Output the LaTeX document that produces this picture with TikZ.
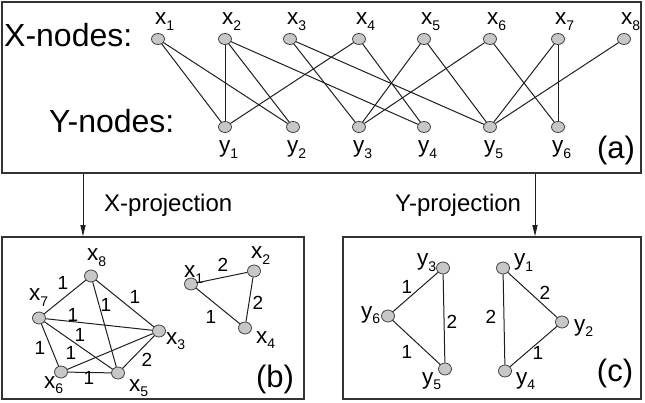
\documentclass[tikz,border=0pt]{standalone}
\usepackage{fontspec}
\setmainfont{Liberation Sans}
\usetikzlibrary{shapes.geometric,arrows.meta}
\newcommand{\sublab}[2]{{\fontsize{22.5}{22.5}\selectfont #1}\raisebox{-5.5pt}{\fontsize{14}{14}\selectfont #2}}
\begin{document}
\begin{tikzpicture}[x=1pt,y=-1pt,
  vtx/.style={ellipse, draw=black!75, fill=black!22, line width=0.8pt, minimum width=13pt, minimum height=11pt, inner sep=0pt},
  edge/.style={draw=black!88, line width=1pt},
  frame/.style={draw=black!80, line width=1.5pt, inner sep=0pt, rectangle},
  lbl/.style={anchor=base west, inner sep=0pt},
  wt/.style={font=\fontsize{19}{19}\selectfont, inner sep=0pt},
  big/.style={anchor=base west, inner sep=0pt, font=\fontsize{32}{32}\selectfont},
  tag/.style={inner sep=0pt, font=\fontsize{31}{31}\selectfont},
  proj/.style={anchor=base west, inner sep=0pt, font=\fontsize{24}{24}\selectfont},
  arr/.style={draw=black!88, line width=1pt, -{Triangle[length=11pt,width=5pt]}}]
\useasboundingbox (0,0) rectangle (645,403);
% frames
\node[frame, minimum width=639pt, minimum height=171pt] (boxa) at (321.5,87.5) {};
\node[frame, minimum width=302pt, minimum height=162pt] (boxb) at (153,318) {};
\node[frame, minimum width=298pt, minimum height=162pt] (boxc) at (492,318) {};
% (a)
\node[big] (xt) at (4,47) {X-nodes:};
\node[big] (yt) at (49,133) {Y-nodes:};
\foreach \i/\x in {1/158,2/225,3/290,4/359,5/424,6/490,7/558,8/624}{
  \node[vtx] (x\i) at (\x,39) {};
  \node[lbl] (xl\i) at (\x-3,25) {\sublab{x}{\i}};
}
\foreach \i/\x in {1/225,2/293,3/359,4/424,5/490,6/558}{
  \node[vtx] (y\i) at (\x,127) {};
  \node[lbl] (yl\i) at (\x-6,153) {\sublab{y}{\i}};
}
\foreach \a/\b in {1/1,1/2,2/1,2/2,2/4,3/3,3/5,4/1,4/4,5/3,5/5,6/3,6/6,7/5,7/6,8/5}{
  \draw[edge] (x\a) -- (y\b);
}
\node[tag] (ta) at (616,150) {(a)};
% arrows
\coordinate (ax) at (83,0);
\coordinate (bx) at (535,0);
\draw[arr] (boxa.south -| ax) -- (boxb.north -| ax);
\draw[arr] (boxa.south -| bx) -- (boxc.north -| bx);
\node[proj] (xp) at (104,212) {X-projection};
\node[proj] (yp) at (395,212) {Y-projection};
% (b)
\node[vtx, minimum height=12pt] (b8) at (91,276) {};
\node[vtx, minimum height=12pt] (b7) at (39,318) {};
\node[vtx, minimum height=12pt] (b3) at (159,331) {};
\node[vtx, minimum height=12pt] (b6) at (61,372) {};
\node[vtx, minimum height=12pt] (b5) at (118,373) {};
\node[vtx, minimum height=12pt] (b1) at (191,284) {};
\node[vtx, minimum height=12pt] (b2) at (254,271) {};
\node[vtx, minimum height=12pt] (b4) at (245,328) {};
\node[lbl] (bl8) at (87,261) {\sublab{x}{8}};
\node[lbl] (bl7) at (29,301) {\sublab{x}{7}};
\node[lbl] (bl3) at (166,344) {\sublab{x}{3}};
\node[lbl] (bl6) at (44,388) {\sublab{x}{6}};
\node[lbl] (bl5) at (129,391) {\sublab{x}{5}};
\node[lbl] (bl1) at (184,278) {\sublab{x}{1}};
\node[lbl] (bl2) at (251,259) {\sublab{x}{2}};
\node[lbl] (bl4) at (256,343) {\sublab{x}{4}};
\draw[edge] (b7) -- (b8);
\draw[edge] (b8) -- (b3);
\draw[edge] (b8) -- (b5);
\draw[edge] (b7) -- (b3);
\draw[edge] (b7) -- (b5);
\draw[edge] (b7) -- (b6);
\draw[edge] (b6) -- (b3);
\draw[edge] (b6) -- (b5);
\draw[edge] (b3) -- (b5);
\draw[edge] (b1) -- (b2);
\draw[edge] (b2) -- (b4);
\draw[edge] (b1) -- (b4);
\node[wt] (w1) at (63,283) {1};
\node[wt] (w2) at (135,297) {1};
\node[wt] (w3) at (73,315) {1};
\node[wt] (w4) at (106,305) {1};
\node[wt] (w5) at (80,335) {1};
\node[wt] (w6) at (71,353) {1};
\node[wt] (w7) at (40,348) {1};
\node[wt] (w8) at (89,378) {1};
\node[wt] (w9) at (147,360) {2};
\node[wt] (w10) at (223,265) {2};
\node[wt] (w11) at (258,303) {2};
\node[wt] (w12) at (211,317) {1};
\node[tag] (tb) at (275,379) {(b)};
% (c)
\node[vtx, minimum height=12pt] (c3) at (443,268) {};
\node[vtx, minimum height=12pt] (c6) at (388,316) {};
\node[vtx, minimum height=12pt] (c5) at (445,369) {};
\node[vtx, minimum height=12pt] (c1) at (503,268) {};
\node[vtx, minimum height=12pt] (c2) at (562,322) {};
\node[vtx, minimum height=12pt] (c4) at (505,371) {};
\node[lbl] (cl3) at (417,266) {\sublab{y}{3}};
\node[lbl] (cl6) at (361,318) {\sublab{y}{6}};
\node[lbl] (cl5) at (422,384) {\sublab{y}{5}};
\node[lbl] (cl1) at (514,266) {\sublab{y}{1}};
\node[lbl] (cl2) at (574,331) {\sublab{y}{2}};
\node[lbl] (cl4) at (516,384) {\sublab{y}{4}};
\draw[edge] (c6) -- (c3);
\draw[edge] (c3) -- (c5);
\draw[edge] (c6) -- (c5);
\draw[edge] (c1) -- (c4);
\draw[edge] (c1) -- (c2);
\draw[edge] (c2) -- (c4);
\node[wt] (v1) at (407,287) {1};
\node[wt] (v2) at (452,322) {2};
\node[wt] (v3) at (407,352) {1};
\node[wt] (v4) at (491,317) {2};
\node[wt] (v5) at (545,293) {2};
\node[wt] (v6) at (538,353) {1};
\node[tag] (tc) at (615,373) {(c)};
\end{tikzpicture}
\end{document}
